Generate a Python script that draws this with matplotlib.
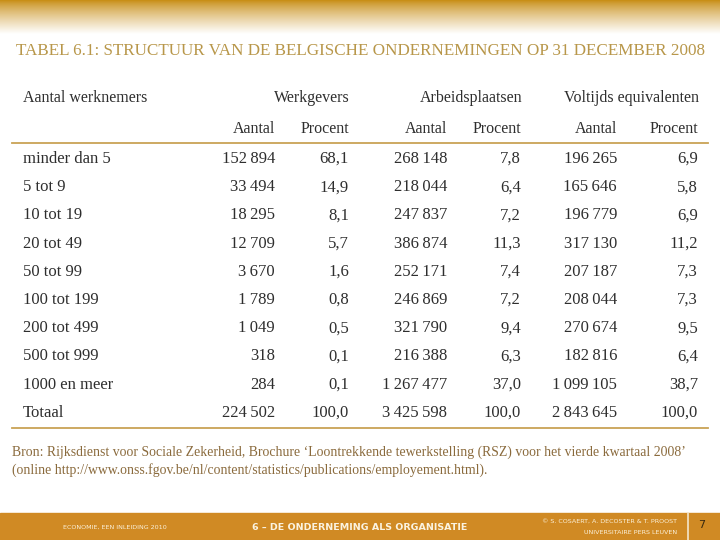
import matplotlib.pyplot as plt
import numpy as np

plt.rcParams['font.family'] = ['Liberation Serif', 'DejaVu Serif']

title = 'TABEL 6.1: STRUCTUUR VAN DE BELGISCHE ONDERNEMINGEN OP 31 DECEMBER 2008'
categories = ['minder dan 5', '5 tot 9', '10 tot 19', '20 tot 49', '50 tot 99',
              '100 tot 199', '200 tot 499', '500 tot 999', '1000 en meer', 'Totaal']
werkgevers_aantal = [152894, 33494, 18295, 12709, 3670, 1789, 1049, 318, 284, 224502]
werkgevers_procent = [68.1, 14.9, 8.1, 5.7, 1.6, 0.8, 0.5, 0.1, 0.1, 100.0]
arbeid_aantal = [268148, 218044, 247837, 386874, 252171, 246869, 321790, 216388, 1267477, 3425598]
arbeid_procent = [7.8, 6.4, 7.2, 11.3, 7.4, 7.2, 9.4, 6.3, 37.0, 100.0]
vte_aantal = [196265, 165646, 196779, 317130, 207187, 208044, 270674, 182816, 1099105, 2843645]
vte_procent = [6.9, 5.8, 6.9, 11.2, 7.3, 7.3, 9.5, 6.4, 38.7, 100.0]
group_headers = ['Werkgevers', 'Arbeidsplaatsen', 'Voltijds equivalenten']
sub_headers = ['Aantal', 'Procent']
source_lines = ['Bron: Rijksdienst voor Sociale Zekerheid, Brochure \u2018Loontrekkende tewerkstelling (RSZ) voor het vierde kwartaal 2008\u2019',
                '(online http://www.onss.fgov.be/nl/content/statistics/publications/employement.html).']
footer_left = 'ECONOMIE, EEN INLEIDING 2010'
footer_mid = '6 \u2013 DE ONDERNEMING ALS ORGANISATIE'
footer_right = ['\u00a9 S. COSAERT, A. DECOSTER & T. PROOST', 'UNIVERSITAIRE PERS LEUVEN']
page = '7'


def fmt_int(v):
    return f'{v:,}'.replace(',', '\u2009')


def fmt_pct(v):
    return f'{v:.1f}'.replace('.', ',')


gold = '#c9a255'
text_col = '#2e2e2e'

fig = plt.figure(figsize=(7.2, 5.4), dpi=100)
ax = fig.add_axes([0, 0, 1, 1])
ax.set_xlim(0, 720)
ax.set_ylim(540, 0)
ax.axis('off')

# gold gradient at the top
grad = np.linspace(0, 1, 100).reshape(-1, 1)
top = np.array([0.78, 0.55, 0.07])
img = top + (1 - top) * grad[..., None] ** 0.8
ax.imshow(img, extent=[0, 720, 34, 0], aspect='auto', zorder=0)

ax.text(16, 55, title, color='#b8974a', fontsize=12.3, va='baseline', ha='left')

# headers (baseline = row centre + 5)
ax.text(23, 102, 'Aantal werknemers', color=text_col, fontsize=11.5, va='baseline')
col_right = [275, 349, 447, 521, 617, 698]
for i, g in enumerate(group_headers):
    ax.text(col_right[2 * i + 1] + 1, 102, g, color=text_col, fontsize=11.5, va='baseline', ha='right')
for j, x in enumerate(col_right):
    ax.text(x, 133, sub_headers[j % 2], color=text_col, fontsize=11.5, va='baseline', ha='right')

ax.plot([12, 708], [143, 143], color=gold, lw=1.3)
ax.plot([12, 708], [428, 428], color=gold, lw=1.3)

row_y = 163 + 28.2 * np.arange(len(categories))
cols = [werkgevers_aantal, werkgevers_procent, arbeid_aantal, arbeid_procent, vte_aantal, vte_procent]
for r, cat in enumerate(categories):
    y = row_y[r]
    ax.text(23, y, cat, color=text_col, fontsize=12, va='baseline')
    for j, c in enumerate(cols):
        s = fmt_int(c[r]) if j % 2 == 0 else fmt_pct(c[r])
        ax.text(col_right[j], y, s, color=text_col, fontsize=12, va='baseline', ha='right')

for k, line in enumerate(source_lines):
    ax.text(12, 456 + 18 * k, line, color='#8a6a3c', fontsize=9.9, va='baseline')

# footer band
ax.add_patch(plt.Rectangle((0, 513), 720, 27, color='#d08a24', zorder=1))
ax.plot([688, 688], [513, 540], color='#f3e6cc', lw=1.2, zorder=2)
ax.text(115, 527, footer_left, color='#fbf0d8', fontsize=4.6, ha='center', va='center',
        family='DejaVu Sans', zorder=3)
ax.text(360, 527, footer_mid, color='#fbf3e0', fontsize=6.8, ha='center', va='center',
        family='DejaVu Sans', fontweight='bold', zorder=3)
ax.text(677, 521, footer_right[0], color='#fbf0d8', fontsize=4.6, ha='right', va='center',
        family='DejaVu Sans', zorder=3)
ax.text(677, 533, footer_right[1], color='#fbf0d8', fontsize=4.6, ha='right', va='center',
        family='DejaVu Sans', zorder=3)
ax.text(702, 525, page, color='#3a2a10', fontsize=8, ha='center', va='center',
        family='DejaVu Sans', zorder=3)

fig.savefig('out.png', dpi=100)
